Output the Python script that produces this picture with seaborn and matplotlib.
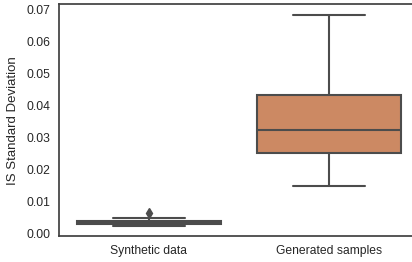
import matplotlib
matplotlib.use("Agg")
import matplotlib.pyplot as plt
import seaborn as sns
import pandas as pd

categories = ["Synthetic data", "Generated samples"]
synthetic_values = [0.0025, 0.0028, 0.0030, 0.0033, 0.0035, 0.0038, 0.0041, 0.0048, 0.0064]
generated_values = [0.0148, 0.0251, 0.0323, 0.0433, 0.0683]
y_label = "IS Standard Deviation"

df = pd.DataFrame({
    "source": [categories[0]] * len(synthetic_values) + [categories[1]] * len(generated_values),
    "value": synthetic_values + generated_values,
})

sns.set_theme(style="white")
plt.rcParams["font.family"] = ["Liberation Sans", "DejaVu Sans"]

fig = plt.figure(figsize=(4.12, 2.62), dpi=100)
ax = fig.add_axes([0.142, 0.098, 0.874, 0.885])
line_gray = "#4c4c4c"
sns.boxplot(data=df, x="source", y="value", hue="source", order=categories,
            palette=["#4C72B0", "#DD8452"], saturation=0.75, width=0.8,
            linecolor=line_gray, linewidth=1.5, legend=False,
            flierprops=dict(marker="d", markerfacecolor=line_gray,
                            markeredgecolor=line_gray, markersize=5.5),
            ax=ax)
ax.set_xlabel("")
ax.set_ylabel(y_label, fontsize=9.5, color="#262626", labelpad=5)
ax.tick_params(axis="both", labelsize=8.7, length=0, pad=6, labelcolor="#262626")
for s in ax.spines.values():
    s.set_color("#404040")
    s.set_linewidth(1.25)
ax.spines["right"].set_visible(False)
fig.savefig("out.png", dpi=100)
